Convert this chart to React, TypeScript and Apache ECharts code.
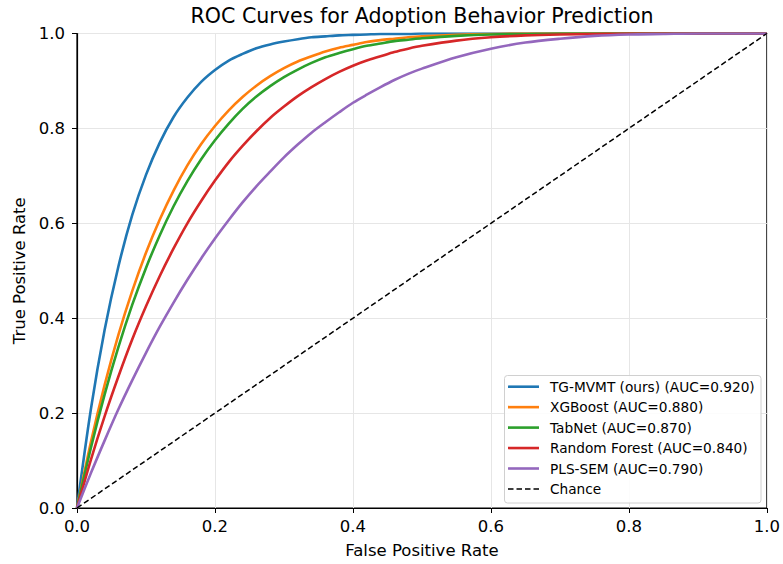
import React, { useEffect, useRef } from "react";
import * as echarts from "echarts";

const fpr = [
  0, 0.02, 0.04, 0.06, 0.08, 0.1, 0.12, 0.14, 0.16, 0.18, 0.2, 0.22, 0.24, 0.26, 0.28, 0.3, 0.32, 0.34, 0.36, 0.38, 0.4,
  0.42, 0.44, 0.46, 0.48, 0.5, 0.55, 0.6, 0.65, 0.7, 0.75, 0.8, 0.85, 0.9, 0.95, 1.0,
];
const tgMvmt = [
  0, 0.207, 0.375, 0.509, 0.617, 0.702, 0.77, 0.824, 0.865, 0.898, 0.923, 0.943, 0.957, 0.969, 0.977, 0.983, 0.988, 0.992,
  0.994, 0.996, 0.997, 0.998, 0.999, 0.999, 0.999, 1.0, 1, 1, 1, 1, 1, 1, 1, 1, 1, 1,
];
const xgboost = [
  0, 0.138, 0.259, 0.365, 0.457, 0.538, 0.608, 0.669, 0.722, 0.767, 0.805, 0.838, 0.866, 0.89, 0.91, 0.927, 0.941, 0.952,
  0.962, 0.97, 0.976, 0.982, 0.986, 0.989, 0.992, 0.994, 0.997, 0.999, 1, 1, 1, 1, 1, 1, 1, 1,
];
const tabnet = [
  0, 0.126, 0.239, 0.339, 0.428, 0.506, 0.575, 0.636, 0.689, 0.735, 0.775, 0.81, 0.841, 0.867, 0.889, 0.908, 0.924, 0.938,
  0.95, 0.959, 0.967, 0.974, 0.979, 0.984, 0.987, 0.99, 0.995, 0.998, 0.999, 1, 1, 1, 1, 1, 1, 1,
];
const randomForest = [
  0, 0.101, 0.193, 0.277, 0.355, 0.425, 0.489, 0.547, 0.6, 0.647, 0.69, 0.729, 0.763, 0.794, 0.822, 0.846, 0.868, 0.887,
  0.904, 0.919, 0.932, 0.943, 0.952, 0.961, 0.968, 0.974, 0.985, 0.992, 0.996, 0.998, 0.999, 1, 1, 1, 1, 1,
];
const plsSem = [
  0, 0.073, 0.142, 0.208, 0.269, 0.327, 0.382, 0.433, 0.481, 0.526, 0.568, 0.607, 0.644, 0.678, 0.709, 0.739, 0.766, 0.791,
  0.813, 0.834, 0.854, 0.871, 0.887, 0.902, 0.915, 0.926, 0.95, 0.968, 0.981, 0.989, 0.995, 0.998, 0.999, 1, 1, 1,
];
const chanceX = [0, 1];
const chanceY = [0, 1];

const seriesNames = [
  "TG-MVMT (ours) (AUC=0.920)",
  "XGBoost (AUC=0.880)",
  "TabNet (AUC=0.870)",
  "Random Forest (AUC=0.840)",
  "PLS-SEM (AUC=0.790)",
];
const seriesValues = [tgMvmt, xgboost, tabnet, randomForest, plsSem];
const seriesColors = ["#1f77b4", "#ff7f0e", "#2ca02c", "#d62728", "#9467bd"];

const FONT = "DejaVu Sans";

export default function App() {
  const ref = useRef<HTMLDivElement>(null);
  useEffect(() => {
    if (!ref.current) return;
    const chart = echarts.init(ref.current, null, { renderer: "svg" });
    const axisCommon = {
      type: "value",
      min: 0,
      max: 1,
      interval: 0.2,
      axisLine: { show: true, lineStyle: { color: "#000", width: 1.2 } },
      axisTick: { show: true, inside: false, length: 5, lineStyle: { color: "#000", width: 1 } },
      splitLine: { show: true, lineStyle: { color: "#e6e6e6", width: 1 } },
      nameLocation: "middle",
      nameTextStyle: { fontFamily: FONT, fontSize: 16.5, color: "#000" },
    };
    const lines = seriesNames.map((name, i) => ({
      name,
      type: "line",
      data: fpr.map((x, j) => [x, seriesValues[i][j]]),
      symbol: "none",
      showSymbol: false,
      smooth: 0.3,
      lineStyle: { color: seriesColors[i], width: 2.6 },
      itemStyle: { color: seriesColors[i] },
      z: 2 + i,
    }));

    // legend drawn as graphic
    const legendNames = [...seriesNames, "Chance"];
    const legendColors = [...seriesColors, "#000"];
    const boxL = 504.5, boxT = 375.5, boxR = 761, boxB = 503;
    const row0 = 386.7, pitch = 20.45;
    const legendEls: any[] = [
      {
        type: "rect",
        shape: { x: boxL, y: boxT, width: boxR - boxL, height: boxB - boxT, r: 3 },
        style: { fill: "rgba(255,255,255,0.85)", stroke: "#d0d0d0", lineWidth: 1 },
        z: 100,
      },
    ];
    legendNames.forEach((n, i) => {
      const y = row0 + i * pitch;
      const dashed = i === legendNames.length - 1;
      legendEls.push({
        type: "line",
        shape: { x1: 508, y1: y, x2: 539, y2: y },
        style: {
          stroke: legendColors[i],
          lineWidth: dashed ? 1.5 : 2.6,
          lineDash: dashed ? [5.5, 3] : null,
        },
        z: 101,
      });
      legendEls.push({
        type: "text",
        x: 550,
        y: y,
        style: {
          text: n,
          fontFamily: FONT,
          fontSize: 13.7,
          fill: "#000",
          textAlign: "left",
          textVerticalAlign: "middle",
        },
        z: 101,
      });
    });

    chart.setOption({
      animation: false,
      backgroundColor: "#fff",
      grid: { left: 77, right: 16, top: 33.5, bottom: 55, containLabel: false, show: true, borderColor: "#000", borderWidth: 1.2, backgroundColor: "transparent" },
      xAxis: {
        ...axisCommon,
        name: "False Positive Rate",
        nameGap: 34,
        axisLabel: { fontFamily: FONT, fontSize: 16.5, color: "#000", margin: 10, formatter: (v: number) => v.toFixed(1) },
      },
      yAxis: {
        ...axisCommon,
        name: "True Positive Rate",
        nameGap: 48,
        axisLabel: { fontFamily: FONT, fontSize: 16.5, color: "#000", margin: 12, formatter: (v: number) => v.toFixed(1) },
      },
      legend: { show: false },
      graphic: [
        {
          type: "text",
          x: 422,
          y: 16,
          style: {
            text: "ROC Curves for Adoption Behavior Prediction",
            fontFamily: FONT,
            fontSize: 20.6,
            fill: "#000",
            textAlign: "center",
            textVerticalAlign: "middle",
          },
        },
        ...legendEls,
      ],
      series: [
        ...lines,
        {
          name: "Chance",
          type: "line",
          data: chanceX.map((x, j) => [x, chanceY[j]]),
          symbol: "none",
          showSymbol: false,
          lineStyle: { color: "#000", width: 1.5, type: [5.5, 3] },
          itemStyle: { color: "#000" },
          z: 10,
        },
      ],
    });
    return () => chart.dispose();
  }, []);
  return <div ref={ref} style={{ position: "fixed", left: 0, top: 0, width: 783, height: 564 }} />;
}
